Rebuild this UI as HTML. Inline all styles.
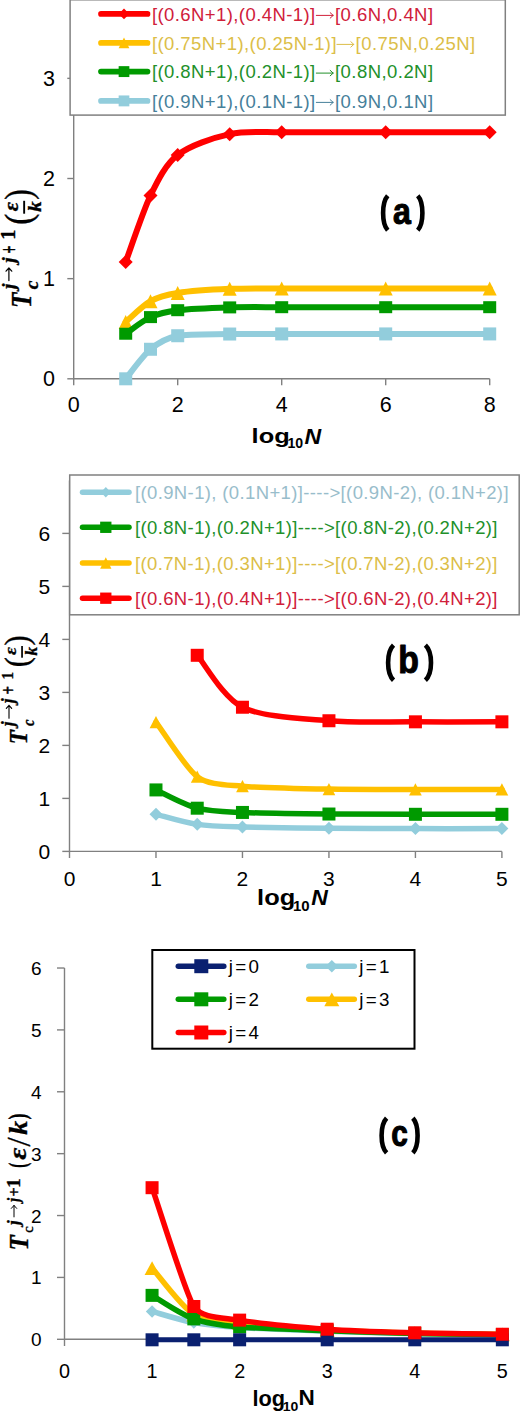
<!DOCTYPE html>
<html><head><meta charset="utf-8"><style>
html,body{margin:0;padding:0;background:#fff;}
body{width:520px;height:1412px;overflow:hidden;font-family:"Liberation Sans",sans-serif;}
svg{display:block;}
</style></head><body>
<svg width="520" height="1412" viewBox="0 0 520 1412">
<rect width="520" height="1412" fill="#fff"/>
<g stroke="#808080" stroke-width="1.4" fill="none">
<path d="M73.7,28.274999999999977 V378.8 H489.7"/>
<path d="M67.3,378.80 H73.7"/>
<path d="M67.3,278.65 H73.7"/>
<path d="M67.3,178.50 H73.7"/>
<path d="M67.3,78.35 H73.7"/>
<path d="M73.70,378.8 V385.3"/>
<path d="M177.70,378.8 V385.3"/>
<path d="M281.70,378.8 V385.3"/>
<path d="M385.70,378.8 V385.3"/>
<path d="M489.70,378.8 V385.3"/>
</g>
<text x="55" y="386.40" font-family="Liberation Sans, sans-serif" font-size="21.5" text-anchor="end" fill="#000">0</text>
<text x="55" y="286.25" font-family="Liberation Sans, sans-serif" font-size="21.5" text-anchor="end" fill="#000">1</text>
<text x="55" y="186.10" font-family="Liberation Sans, sans-serif" font-size="21.5" text-anchor="end" fill="#000">2</text>
<text x="55" y="85.95" font-family="Liberation Sans, sans-serif" font-size="21.5" text-anchor="end" fill="#000">3</text>
<text x="73.70" y="411.6" font-family="Liberation Sans, sans-serif" font-size="21.5" text-anchor="middle" fill="#000">0</text>
<text x="177.70" y="411.6" font-family="Liberation Sans, sans-serif" font-size="21.5" text-anchor="middle" fill="#000">2</text>
<text x="281.70" y="411.6" font-family="Liberation Sans, sans-serif" font-size="21.5" text-anchor="middle" fill="#000">4</text>
<text x="385.70" y="411.6" font-family="Liberation Sans, sans-serif" font-size="21.5" text-anchor="middle" fill="#000">6</text>
<text x="489.70" y="411.6" font-family="Liberation Sans, sans-serif" font-size="21.5" text-anchor="middle" fill="#000">8</text>
<path d="M125.70,261.92 C129.83,250.86 143.43,210.07 150.50,195.53 C157.57,180.98 165.40,164.50 177.70,154.96 C190.00,145.43 213.01,137.78 229.70,134.13 C246.39,130.48 264.36,132.44 281.70,132.23 C299.04,132.02 351.03,132.23 385.70,132.23 C420.37,132.23 472.37,132.23 489.70,132.23" fill="none" stroke="#FF0000" stroke-width="6" stroke-linejoin="round" stroke-linecap="round"/>
<path d="M125.70,254.92 L132.70,261.92 L125.70,268.92 L118.70,261.92Z" fill="#FF0000"/>
<path d="M150.50,188.53 L157.50,195.53 L150.50,202.53 L143.50,195.53Z" fill="#FF0000"/>
<path d="M177.70,147.96 L184.70,154.96 L177.70,161.96 L170.70,154.96Z" fill="#FF0000"/>
<path d="M229.70,127.13 L236.70,134.13 L229.70,141.13 L222.70,134.13Z" fill="#FF0000"/>
<path d="M281.70,125.23 L288.70,132.23 L281.70,139.23 L274.70,132.23Z" fill="#FF0000"/>
<path d="M385.70,125.23 L392.70,132.23 L385.70,139.23 L378.70,132.23Z" fill="#FF0000"/>
<path d="M489.70,125.23 L496.70,132.23 L489.70,139.23 L482.70,132.23Z" fill="#FF0000"/>
<path d="M125.70,322.01 C129.83,318.54 142.40,305.71 150.50,301.18 C158.60,296.66 168.39,294.42 177.70,292.97 C187.01,291.52 212.39,289.62 229.70,288.87 C247.01,288.12 264.37,288.51 281.70,288.46 C299.03,288.42 351.03,288.46 385.70,288.46 C420.37,288.46 472.37,288.46 489.70,288.46" fill="none" stroke="#FFC000" stroke-width="6" stroke-linejoin="round" stroke-linecap="round"/>
<path d="M125.70,315.01 L132.70,329.01 L118.70,329.01Z" fill="#FFC000"/>
<path d="M150.50,294.18 L157.50,308.18 L143.50,308.18Z" fill="#FFC000"/>
<path d="M177.70,285.97 L184.70,299.97 L170.70,299.97Z" fill="#FFC000"/>
<path d="M229.70,281.87 L236.70,295.87 L222.70,295.87Z" fill="#FFC000"/>
<path d="M281.70,281.46 L288.70,295.46 L274.70,295.46Z" fill="#FFC000"/>
<path d="M385.70,281.46 L392.70,295.46 L378.70,295.46Z" fill="#FFC000"/>
<path d="M489.70,281.46 L496.70,295.46 L482.70,295.46Z" fill="#FFC000"/>
<path d="M125.70,333.73 C129.83,330.96 142.11,320.91 150.50,317.11 C158.90,313.31 168.46,311.33 177.70,310.20 C186.94,309.06 212.38,307.89 229.70,307.39 C247.02,306.89 264.37,307.22 281.70,307.19 C299.03,307.17 351.03,307.19 385.70,307.19 C420.37,307.19 472.37,307.19 489.70,307.19" fill="none" stroke="#009A00" stroke-width="6" stroke-linejoin="round" stroke-linecap="round"/>
<rect x="119.20" y="327.73" width="13.00" height="12.00" fill="#009A00"/>
<rect x="144.00" y="311.11" width="13.00" height="12.00" fill="#009A00"/>
<rect x="171.20" y="304.20" width="13.00" height="12.00" fill="#009A00"/>
<rect x="223.20" y="301.39" width="13.00" height="12.00" fill="#009A00"/>
<rect x="275.20" y="301.19" width="13.00" height="12.00" fill="#009A00"/>
<rect x="379.20" y="301.19" width="13.00" height="12.00" fill="#009A00"/>
<rect x="483.20" y="301.19" width="13.00" height="12.00" fill="#009A00"/>
<path d="M125.70,378.80 C129.83,373.88 142.87,355.58 150.50,349.26 C158.14,342.93 167.97,337.61 177.70,335.74 C187.43,333.87 212.37,334.33 229.70,334.03 C247.03,333.73 264.37,333.94 281.70,333.93 C299.03,333.92 351.03,333.93 385.70,333.93 C420.37,333.93 472.37,333.93 489.70,333.93" fill="none" stroke="#92CDDC" stroke-width="6" stroke-linejoin="round" stroke-linecap="round"/>
<rect x="119.20" y="372.30" width="13.00" height="13.00" fill="#92CDDC"/>
<rect x="144.00" y="342.76" width="13.00" height="13.00" fill="#92CDDC"/>
<rect x="171.20" y="329.24" width="13.00" height="13.00" fill="#92CDDC"/>
<rect x="223.20" y="327.53" width="13.00" height="13.00" fill="#92CDDC"/>
<rect x="275.20" y="327.43" width="13.00" height="13.00" fill="#92CDDC"/>
<rect x="379.20" y="327.43" width="13.00" height="13.00" fill="#92CDDC"/>
<rect x="483.20" y="327.43" width="13.00" height="13.00" fill="#92CDDC"/>
<rect x="70.1" y="-0.2" width="435.2" height="115.3" fill="#fff" stroke="#808080" stroke-width="1.5"/>
<path d="M101,13.9 H147.5" stroke="#FF0000" stroke-width="5.7" stroke-linecap="round"/>
<path d="M124.00,8.45 L129.25,13.90 L124.00,19.35 L118.75,13.90Z" fill="#FF0000"/>
<text x="152" y="20.50" font-family="Liberation Sans, sans-serif" font-size="18.5" letter-spacing="0.41" fill="#D0203A">[(0.6N+1),(0.4N-1)]</text>
<path d="M316.30,15.40 H333.20 M330.20,12.70 L333.20,15.40 L330.20,18.10" fill="none" stroke="#D0203A" stroke-width="1.0" stroke-linecap="round" stroke-linejoin="round"/>
<text x="335.0" y="20.50" font-family="Liberation Sans, sans-serif" font-size="18.5" letter-spacing="0.45" fill="#D0203A">[0.6N,0.4N]</text>
<path d="M101,42.9 H147.5" stroke="#FFC000" stroke-width="5.7" stroke-linecap="round"/>
<path d="M124.00,37.45 L129.35,48.35 L118.65,48.35Z" fill="#FFC000"/>
<text x="152" y="49.50" font-family="Liberation Sans, sans-serif" font-size="18.5" letter-spacing="0.41" fill="#DCBE48">[(0.75N+1),(0.25N-1)]</text>
<path d="M336.90,44.40 H353.80 M350.80,41.70 L353.80,44.40 L350.80,47.10" fill="none" stroke="#DCBE48" stroke-width="1.0" stroke-linecap="round" stroke-linejoin="round"/>
<text x="355.6" y="49.50" font-family="Liberation Sans, sans-serif" font-size="18.5" letter-spacing="0.45" fill="#DCBE48">[0.75N,0.25N]</text>
<path d="M101,71.6 H147.5" stroke="#009A00" stroke-width="5.7" stroke-linecap="round"/>
<rect x="118.65" y="66.15" width="10.70" height="10.90" fill="#009A00"/>
<text x="152" y="78.20" font-family="Liberation Sans, sans-serif" font-size="18.5" letter-spacing="0.41" fill="#22902A">[(0.8N+1),(0.2N-1)]</text>
<path d="M316.30,73.10 H333.20 M330.20,70.40 L333.20,73.10 L330.20,75.80" fill="none" stroke="#22902A" stroke-width="1.0" stroke-linecap="round" stroke-linejoin="round"/>
<text x="335.0" y="78.20" font-family="Liberation Sans, sans-serif" font-size="18.5" letter-spacing="0.45" fill="#22902A">[0.8N,0.2N]</text>
<path d="M101,100.9 H147.5" stroke="#92CDDC" stroke-width="5.7" stroke-linecap="round"/>
<rect x="118.65" y="95.45" width="10.70" height="10.90" fill="#92CDDC"/>
<text x="152" y="107.50" font-family="Liberation Sans, sans-serif" font-size="18.5" letter-spacing="0.41" fill="#46809A">[(0.9N+1),(0.1N-1)]</text>
<path d="M316.30,102.40 H333.20 M330.20,99.70 L333.20,102.40 L330.20,105.10" fill="none" stroke="#46809A" stroke-width="1.0" stroke-linecap="round" stroke-linejoin="round"/>
<text x="335.0" y="107.50" font-family="Liberation Sans, sans-serif" font-size="18.5" letter-spacing="0.45" fill="#46809A">[0.9N,0.1N]</text>
<g stroke="#808080" stroke-width="1.4" fill="none">
<path d="M69.5,480.4 V851.4 H501.90000000000003"/>
<path d="M62.3,851.40 H69.5"/>
<path d="M62.3,798.40 H69.5"/>
<path d="M62.3,745.40 H69.5"/>
<path d="M62.3,692.40 H69.5"/>
<path d="M62.3,639.40 H69.5"/>
<path d="M62.3,586.40 H69.5"/>
<path d="M62.3,533.40 H69.5"/>
<path d="M69.50,851.4 V858"/>
<path d="M155.98,851.4 V858"/>
<path d="M242.46,851.4 V858"/>
<path d="M328.94,851.4 V858"/>
<path d="M415.42,851.4 V858"/>
<path d="M501.90,851.4 V858"/>
</g>
<text x="50.3" y="858.80" font-family="Liberation Sans, sans-serif" font-size="21" text-anchor="end" fill="#000">0</text>
<text x="50.3" y="805.80" font-family="Liberation Sans, sans-serif" font-size="21" text-anchor="end" fill="#000">1</text>
<text x="50.3" y="752.80" font-family="Liberation Sans, sans-serif" font-size="21" text-anchor="end" fill="#000">2</text>
<text x="50.3" y="699.80" font-family="Liberation Sans, sans-serif" font-size="21" text-anchor="end" fill="#000">3</text>
<text x="50.3" y="646.80" font-family="Liberation Sans, sans-serif" font-size="21" text-anchor="end" fill="#000">4</text>
<text x="50.3" y="593.80" font-family="Liberation Sans, sans-serif" font-size="21" text-anchor="end" fill="#000">5</text>
<text x="50.3" y="540.80" font-family="Liberation Sans, sans-serif" font-size="21" text-anchor="end" fill="#000">6</text>
<text x="69.50" y="885.6" font-family="Liberation Sans, sans-serif" font-size="21" text-anchor="middle" fill="#000">0</text>
<text x="155.98" y="885.6" font-family="Liberation Sans, sans-serif" font-size="21" text-anchor="middle" fill="#000">1</text>
<text x="242.46" y="885.6" font-family="Liberation Sans, sans-serif" font-size="21" text-anchor="middle" fill="#000">2</text>
<text x="328.94" y="885.6" font-family="Liberation Sans, sans-serif" font-size="21" text-anchor="middle" fill="#000">3</text>
<text x="415.42" y="885.6" font-family="Liberation Sans, sans-serif" font-size="21" text-anchor="middle" fill="#000">4</text>
<text x="501.90" y="885.6" font-family="Liberation Sans, sans-serif" font-size="21" text-anchor="middle" fill="#000">5</text>
<path d="M197.23,655.30 C204.77,663.96 223.13,697.63 242.46,707.24 C261.79,716.85 300.29,718.34 328.94,720.75 C357.59,723.17 386.59,721.64 415.42,721.82 C444.25,721.99 487.49,721.82 501.90,721.82" fill="none" stroke="#FF0000" stroke-width="5.5" stroke-linejoin="round" stroke-linecap="round"/>
<rect x="190.73" y="648.80" width="13.00" height="13.00" fill="#FF0000"/>
<rect x="235.96" y="700.74" width="13.00" height="13.00" fill="#FF0000"/>
<rect x="322.44" y="714.25" width="13.00" height="13.00" fill="#FF0000"/>
<rect x="408.92" y="715.32" width="13.00" height="13.00" fill="#FF0000"/>
<rect x="495.40" y="715.32" width="13.00" height="13.00" fill="#FF0000"/>
<path d="M155.98,722.08 C162.86,731.18 185.61,768.05 197.23,776.67 C208.85,785.29 227.17,784.76 242.46,786.21 C257.75,787.66 300.12,788.60 328.94,789.12 C357.76,789.65 386.59,789.35 415.42,789.39 C444.25,789.43 487.49,789.39 501.90,789.39" fill="none" stroke="#FFC000" stroke-width="5.5" stroke-linejoin="round" stroke-linecap="round"/>
<path d="M155.98,715.98 L162.33,728.18 L149.63,728.18Z" fill="#FFC000"/>
<path d="M197.23,770.57 L203.58,782.77 L190.88,782.77Z" fill="#FFC000"/>
<path d="M242.46,780.11 L248.81,792.31 L236.11,792.31Z" fill="#FFC000"/>
<path d="M328.94,783.02 L335.29,795.23 L322.59,795.23Z" fill="#FFC000"/>
<path d="M415.42,783.29 L421.77,795.49 L409.07,795.49Z" fill="#FFC000"/>
<path d="M501.90,783.29 L508.25,795.49 L495.55,795.49Z" fill="#FFC000"/>
<path d="M155.98,789.92 C162.86,792.97 182.87,804.46 197.23,808.20 C211.60,811.95 227.34,811.78 242.46,812.44 C257.58,813.11 300.12,813.73 328.94,814.03 C357.76,814.34 386.59,814.26 415.42,814.30 C444.25,814.34 487.49,814.30 501.90,814.30" fill="none" stroke="#009A00" stroke-width="5.5" stroke-linejoin="round" stroke-linecap="round"/>
<rect x="149.48" y="783.42" width="13.00" height="13.00" fill="#009A00"/>
<rect x="190.73" y="801.70" width="13.00" height="13.00" fill="#009A00"/>
<rect x="235.96" y="805.94" width="13.00" height="13.00" fill="#009A00"/>
<rect x="322.44" y="807.53" width="13.00" height="13.00" fill="#009A00"/>
<rect x="408.92" y="807.80" width="13.00" height="13.00" fill="#009A00"/>
<rect x="495.40" y="807.80" width="13.00" height="13.00" fill="#009A00"/>
<path d="M155.98,814.30 C162.86,815.98 183.28,822.32 197.23,824.37 C211.18,826.42 227.37,826.56 242.46,827.02 C257.55,827.48 300.11,828.08 328.94,828.35 C357.77,828.61 386.59,828.57 415.42,828.61 C444.25,828.65 487.49,828.61 501.90,828.61" fill="none" stroke="#92CDDC" stroke-width="5.5" stroke-linejoin="round" stroke-linecap="round"/>
<path d="M155.98,807.80 L162.48,814.30 L155.98,820.80 L149.48,814.30Z" fill="#92CDDC"/>
<path d="M197.23,817.87 L203.73,824.37 L197.23,830.87 L190.73,824.37Z" fill="#92CDDC"/>
<path d="M242.46,820.52 L248.96,827.02 L242.46,833.52 L235.96,827.02Z" fill="#92CDDC"/>
<path d="M328.94,821.85 L335.44,828.35 L328.94,834.85 L322.44,828.35Z" fill="#92CDDC"/>
<path d="M415.42,822.11 L421.92,828.61 L415.42,835.11 L408.92,828.61Z" fill="#92CDDC"/>
<path d="M501.90,822.11 L508.40,828.61 L501.90,835.11 L495.40,828.61Z" fill="#92CDDC"/>
<rect x="69.7" y="475" width="449.5" height="139.8" fill="#fff" stroke="#808080" stroke-width="1.5"/>
<path d="M82.5,492.2 H129" stroke="#92CDDC" stroke-width="5.5" stroke-linecap="round"/>
<path d="M105.80,486.90 L110.70,492.20 L105.80,497.50 L100.90,492.20Z" fill="#92CDDC"/>
<text x="135" y="498.80" font-family="Liberation Sans, sans-serif" font-size="18.5" letter-spacing="0.37" fill="#98BDCB">[(0.9N-1), (0.1N+1)]----&gt;[(0.9N-2), (0.1N+2)]</text>
<path d="M82.5,527.3 H129" stroke="#009A00" stroke-width="5.5" stroke-linecap="round"/>
<rect x="100.15" y="521.65" width="11.30" height="11.30" fill="#009A00"/>
<text x="135" y="533.90" font-family="Liberation Sans, sans-serif" font-size="18.5" letter-spacing="0.37" fill="#22902A">[(0.8N-1),(0.2N+1)]----&gt;[(0.8N-2),(0.2N+2)]</text>
<path d="M82.5,563 H129" stroke="#FFC000" stroke-width="5.5" stroke-linecap="round"/>
<path d="M105.80,557.35 L111.45,568.65 L100.15,568.65Z" fill="#FFC000"/>
<text x="135" y="569.60" font-family="Liberation Sans, sans-serif" font-size="18.5" letter-spacing="0.37" fill="#DCBE48">[(0.7N-1),(0.3N+1)]----&gt;[(0.7N-2),(0.3N+2)]</text>
<path d="M82.5,598.2 H129" stroke="#FF0000" stroke-width="5.5" stroke-linecap="round"/>
<rect x="100.15" y="592.55" width="11.30" height="11.30" fill="#FF0000"/>
<text x="135" y="604.80" font-family="Liberation Sans, sans-serif" font-size="18.5" letter-spacing="0.37" fill="#D0203A">[(0.6N-1),(0.4N+1)]----&gt;[(0.6N-2),(0.4N+2)]</text>
<g stroke="#808080" stroke-width="1.4" fill="none">
<path d="M64.5,968.02 V1339.3 H502.34999999999997"/>
<path d="M57,1339.30 H64.5"/>
<path d="M57,1277.42 H64.5"/>
<path d="M57,1215.54 H64.5"/>
<path d="M57,1153.66 H64.5"/>
<path d="M57,1091.78 H64.5"/>
<path d="M57,1029.90 H64.5"/>
<path d="M57,968.02 H64.5"/>
<path d="M64.50,1339.3 V1346"/>
<path d="M152.07,1339.3 V1346"/>
<path d="M239.64,1339.3 V1346"/>
<path d="M327.21,1339.3 V1346"/>
<path d="M414.78,1339.3 V1346"/>
<path d="M502.35,1339.3 V1346"/>
</g>
<text x="41.5" y="1346.30" font-family="Liberation Sans, sans-serif" font-size="19" text-anchor="end" fill="#000">0</text>
<text x="41.5" y="1284.42" font-family="Liberation Sans, sans-serif" font-size="19" text-anchor="end" fill="#000">1</text>
<text x="41.5" y="1222.54" font-family="Liberation Sans, sans-serif" font-size="19" text-anchor="end" fill="#000">2</text>
<text x="41.5" y="1160.66" font-family="Liberation Sans, sans-serif" font-size="19" text-anchor="end" fill="#000">3</text>
<text x="41.5" y="1098.78" font-family="Liberation Sans, sans-serif" font-size="19" text-anchor="end" fill="#000">4</text>
<text x="41.5" y="1036.90" font-family="Liberation Sans, sans-serif" font-size="19" text-anchor="end" fill="#000">5</text>
<text x="41.5" y="975.02" font-family="Liberation Sans, sans-serif" font-size="19" text-anchor="end" fill="#000">6</text>
<text x="64.50" y="1378.2" font-family="Liberation Sans, sans-serif" font-size="19.8" text-anchor="middle" fill="#000">0</text>
<text x="152.07" y="1378.2" font-family="Liberation Sans, sans-serif" font-size="19.8" text-anchor="middle" fill="#000">1</text>
<text x="239.64" y="1378.2" font-family="Liberation Sans, sans-serif" font-size="19.8" text-anchor="middle" fill="#000">2</text>
<text x="327.21" y="1378.2" font-family="Liberation Sans, sans-serif" font-size="19.8" text-anchor="middle" fill="#000">3</text>
<text x="414.78" y="1378.2" font-family="Liberation Sans, sans-serif" font-size="19.8" text-anchor="middle" fill="#000">4</text>
<text x="502.35" y="1378.2" font-family="Liberation Sans, sans-serif" font-size="19.8" text-anchor="middle" fill="#000">5</text>
<path d="M152.07,1311.45 C159.03,1313.31 179.71,1320.00 193.84,1322.59 C207.97,1325.19 224.32,1326.55 239.64,1327.54 C254.96,1328.54 298.03,1330.22 327.21,1331.26 C356.39,1332.29 385.59,1333.11 414.78,1333.73 C443.97,1334.35 487.75,1334.76 502.35,1334.97" fill="none" stroke="#92CDDC" stroke-width="5.5" stroke-linejoin="round" stroke-linecap="round"/>
<path d="M152.07,1305.20 L158.32,1311.45 L152.07,1317.70 L145.82,1311.45Z" fill="#92CDDC"/>
<path d="M193.84,1316.34 L200.09,1322.59 L193.84,1328.84 L187.59,1322.59Z" fill="#92CDDC"/>
<path d="M239.64,1321.29 L245.89,1327.54 L239.64,1333.79 L233.39,1327.54Z" fill="#92CDDC"/>
<path d="M327.21,1325.01 L333.46,1331.26 L327.21,1337.51 L320.96,1331.26Z" fill="#92CDDC"/>
<path d="M414.78,1327.48 L421.03,1333.73 L414.78,1339.98 L408.53,1333.73Z" fill="#92CDDC"/>
<path d="M502.35,1328.72 L508.60,1334.97 L502.35,1341.22 L496.10,1334.97Z" fill="#92CDDC"/>
<path d="M152.07,1268.14 C159.03,1275.87 181.36,1306.70 193.84,1314.55 C206.32,1322.39 224.23,1321.42 239.64,1323.21 C255.05,1325.00 298.05,1328.37 327.21,1330.02 C356.37,1331.67 385.60,1332.39 414.78,1333.11 C443.96,1333.83 487.75,1334.14 502.35,1334.35" fill="none" stroke="#FFC000" stroke-width="5.5" stroke-linejoin="round" stroke-linecap="round"/>
<path d="M152.07,1261.29 L159.57,1274.99 L144.57,1274.99Z" fill="#FFC000"/>
<path d="M193.84,1307.70 L201.34,1321.40 L186.34,1321.40Z" fill="#FFC000"/>
<path d="M239.64,1316.36 L247.14,1330.06 L232.14,1330.06Z" fill="#FFC000"/>
<path d="M327.21,1323.17 L334.71,1336.87 L319.71,1336.87Z" fill="#FFC000"/>
<path d="M414.78,1326.26 L422.28,1339.96 L407.28,1339.96Z" fill="#FFC000"/>
<path d="M502.35,1327.50 L509.85,1341.20 L494.85,1341.20Z" fill="#FFC000"/>
<path d="M152.07,1295.37 C159.03,1299.28 179.47,1313.70 193.84,1318.88 C208.21,1324.06 224.23,1325.57 239.64,1326.92 C255.05,1328.28 298.03,1329.55 327.21,1330.64 C356.39,1331.72 385.60,1332.75 414.78,1333.42 C443.96,1334.09 487.75,1334.45 502.35,1334.66" fill="none" stroke="#009A00" stroke-width="5.5" stroke-linejoin="round" stroke-linecap="round"/>
<rect x="145.57" y="1288.87" width="13.00" height="13.00" fill="#009A00"/>
<rect x="187.34" y="1312.38" width="13.00" height="13.00" fill="#009A00"/>
<rect x="233.14" y="1320.42" width="13.00" height="13.00" fill="#009A00"/>
<rect x="320.71" y="1324.14" width="13.00" height="13.00" fill="#009A00"/>
<rect x="408.28" y="1326.92" width="13.00" height="13.00" fill="#009A00"/>
<rect x="495.85" y="1328.16" width="13.00" height="13.00" fill="#009A00"/>
<path d="M152.07,1339.80 C159.03,1339.80 179.92,1339.80 193.84,1339.80 C207.76,1339.80 224.37,1339.80 239.64,1339.80 C254.91,1339.80 298.02,1339.80 327.21,1339.80 C356.40,1339.80 385.59,1339.80 414.78,1339.80 C443.97,1339.80 487.75,1339.80 502.35,1339.80" fill="none" stroke="#0A2070" stroke-width="5.0" stroke-linejoin="round" stroke-linecap="round"/>
<rect x="145.57" y="1333.30" width="13.00" height="13.00" fill="#0A2070"/>
<rect x="187.34" y="1333.30" width="13.00" height="13.00" fill="#0A2070"/>
<rect x="233.14" y="1333.30" width="13.00" height="13.00" fill="#0A2070"/>
<rect x="320.71" y="1333.30" width="13.00" height="13.00" fill="#0A2070"/>
<rect x="408.28" y="1333.30" width="13.00" height="13.00" fill="#0A2070"/>
<rect x="495.85" y="1333.30" width="13.00" height="13.00" fill="#0A2070"/>
<path d="M152.07,1187.69 C159.03,1207.50 185.81,1294.36 193.84,1306.50 C201.87,1318.64 224.00,1317.45 239.64,1320.12 C255.28,1322.78 298.09,1327.10 327.21,1329.21 C356.33,1331.32 385.60,1331.97 414.78,1332.80 C443.96,1333.64 487.75,1333.99 502.35,1334.23" fill="none" stroke="#FF0000" stroke-width="5.5" stroke-linejoin="round" stroke-linecap="round"/>
<rect x="145.57" y="1181.19" width="13.00" height="13.00" fill="#FF0000"/>
<rect x="187.34" y="1300.00" width="13.00" height="13.00" fill="#FF0000"/>
<rect x="233.14" y="1313.62" width="13.00" height="13.00" fill="#FF0000"/>
<rect x="320.71" y="1322.71" width="13.00" height="13.00" fill="#FF0000"/>
<rect x="408.28" y="1326.30" width="13.00" height="13.00" fill="#FF0000"/>
<rect x="495.85" y="1327.73" width="13.00" height="13.00" fill="#FF0000"/>
<rect x="152.3" y="950" width="262.2" height="98.7" fill="#fff" stroke="#000" stroke-width="2"/>
<path d="M178.3,966.2 H223.8" stroke="#0A2070" stroke-width="5.5" stroke-linecap="round"/>
<rect x="194.30" y="959.20" width="14.00" height="14.00" fill="#0A2070"/>
<text x="228.8" y="973.00" font-family="Liberation Sans, sans-serif" font-size="18.8" letter-spacing="2.3" fill="#000">j=0</text>
<path d="M308.8,966.2 H354.3" stroke="#92CDDC" stroke-width="5.5" stroke-linecap="round"/>
<path d="M331.80,959.95 L338.05,966.20 L331.80,972.45 L325.55,966.20Z" fill="#92CDDC"/>
<text x="359.3" y="973.00" font-family="Liberation Sans, sans-serif" font-size="18.8" letter-spacing="2.3" fill="#000">j=1</text>
<path d="M178.3,999.3 H223.8" stroke="#009A00" stroke-width="5.5" stroke-linecap="round"/>
<rect x="194.30" y="992.30" width="14.00" height="14.00" fill="#009A00"/>
<text x="228.8" y="1006.10" font-family="Liberation Sans, sans-serif" font-size="18.8" letter-spacing="2.3" fill="#000">j=2</text>
<path d="M308.8,999.3 H354.3" stroke="#FFC000" stroke-width="5.5" stroke-linecap="round"/>
<path d="M331.80,992.45 L339.30,1006.15 L324.30,1006.15Z" fill="#FFC000"/>
<text x="359.3" y="1006.10" font-family="Liberation Sans, sans-serif" font-size="18.8" letter-spacing="2.3" fill="#000">j=3</text>
<path d="M178.3,1032.5 H223.8" stroke="#FF0000" stroke-width="5.5" stroke-linecap="round"/>
<rect x="194.30" y="1025.50" width="14.00" height="14.00" fill="#FF0000"/>
<text x="228.8" y="1039.30" font-family="Liberation Sans, sans-serif" font-size="18.8" letter-spacing="2.3" fill="#000">j=4</text>
<text transform="translate(30.52,308.09) rotate(-90) scale(0.2518,0.2869)" font-family="Liberation Serif, serif" font-weight="bold" font-style="italic" font-size="100" fill="#000"  stroke="#000" stroke-width="1.30" stroke-linejoin="round">T</text>
<text transform="translate(37.63,289.22) rotate(-90) scale(0.1964,0.1906)" font-family="Liberation Serif, serif" font-weight="bold" font-style="italic" font-size="100" fill="#000"  stroke="#000" stroke-width="1.81" stroke-linejoin="round">c</text>
<text transform="translate(15.16,289.07) rotate(-90) scale(0.1963,0.1983)" font-family="Liberation Serif, serif" font-weight="bold" font-style="italic" font-size="100" fill="#000"  stroke="#000" stroke-width="1.77" stroke-linejoin="round">j</text>
<text transform="translate(15.16,262.87) rotate(-90) scale(0.1963,0.1983)" font-family="Liberation Serif, serif" font-weight="bold" font-style="italic" font-size="100" fill="#000"  stroke="#000" stroke-width="1.77" stroke-linejoin="round">j</text>
<text transform="translate(17.92,253.42) rotate(-90) scale(0.1394,0.2500)" font-family="Liberation Serif, serif" font-weight="bold" font-style="normal" font-size="100" fill="#000"  stroke="#000" stroke-width="1.80" stroke-linejoin="round">+</text>
<text transform="translate(15.42,239.64) rotate(-90) scale(0.2014,0.2053)" font-family="Liberation Serif, serif" font-weight="bold" font-style="normal" font-size="100" fill="#000"  stroke="#000" stroke-width="1.72" stroke-linejoin="round">1</text>
<text transform="translate(31.23,224.87) rotate(-90) scale(0.3365,0.3806)" font-family="Liberation Serif, serif" font-weight="normal" font-style="normal" font-size="100" fill="#000"  stroke="#000" stroke-width="0.98" stroke-linejoin="round">(</text>
<text transform="translate(31.23,199.78) rotate(-90) scale(0.3173,0.3806)" font-family="Liberation Serif, serif" font-weight="normal" font-style="normal" font-size="100" fill="#000"  stroke="#000" stroke-width="1.00" stroke-linejoin="round">)</text>
<text transform="translate(17.82,211.15) rotate(-90) scale(0.2244,0.2094)" font-family="Liberation Serif, serif" font-weight="bold" font-style="italic" font-size="100" fill="#000"  stroke="#000" stroke-width="1.61" stroke-linejoin="round">ε</text>
<text transform="translate(40.53,211.63) rotate(-90) scale(0.2094,0.1964)" font-family="Liberation Serif, serif" font-weight="bold" font-style="italic" font-size="100" fill="#000"  stroke="#000" stroke-width="1.73" stroke-linejoin="round">k</text>
<text transform="translate(27.02,744.33) rotate(-90) scale(0.2289,0.2531)" font-family="Liberation Serif, serif" font-weight="bold" font-style="italic" font-size="100" fill="#000"  stroke="#000" stroke-width="1.45" stroke-linejoin="round">T</text>
<text transform="translate(34.25,725.97) rotate(-90) scale(0.1464,0.1719)" font-family="Liberation Serif, serif" font-weight="bold" font-style="italic" font-size="100" fill="#000"  stroke="#000" stroke-width="2.20" stroke-linejoin="round">c</text>
<text transform="translate(13.56,726.13) rotate(-90) scale(0.1768,0.1794)" font-family="Liberation Serif, serif" font-weight="bold" font-style="italic" font-size="100" fill="#000"  stroke="#000" stroke-width="1.96" stroke-linejoin="round">j</text>
<text transform="translate(13.56,703.13) rotate(-90) scale(0.1768,0.1794)" font-family="Liberation Serif, serif" font-weight="bold" font-style="italic" font-size="100" fill="#000"  stroke="#000" stroke-width="1.96" stroke-linejoin="round">j</text>
<text transform="translate(15.36,694.56) rotate(-90) scale(0.1479,0.2138)" font-family="Liberation Serif, serif" font-weight="bold" font-style="normal" font-size="100" fill="#000"  stroke="#000" stroke-width="1.94" stroke-linejoin="round">+</text>
<text transform="translate(13.22,679.45) rotate(-90) scale(0.1527,0.1644)" font-family="Liberation Serif, serif" font-weight="bold" font-style="normal" font-size="100" fill="#000"  stroke="#000" stroke-width="2.21" stroke-linejoin="round">1</text>
<text transform="translate(28.43,667.35) rotate(-90) scale(0.3058,0.3472)" font-family="Liberation Serif, serif" font-weight="normal" font-style="normal" font-size="100" fill="#000"  stroke="#000" stroke-width="1.07" stroke-linejoin="round">(</text>
<text transform="translate(28.43,645.54) rotate(-90) scale(0.3058,0.3472)" font-family="Liberation Serif, serif" font-weight="normal" font-style="normal" font-size="100" fill="#000"  stroke="#000" stroke-width="1.07" stroke-linejoin="round">)</text>
<text transform="translate(15.66,655.12) rotate(-90) scale(0.1910,0.1635)" font-family="Liberation Serif, serif" font-weight="bold" font-style="italic" font-size="100" fill="#000"  stroke="#000" stroke-width="1.97" stroke-linejoin="round">ε</text>
<text transform="translate(37.43,655.50) rotate(-90) scale(0.1719,0.1775)" font-family="Liberation Serif, serif" font-weight="bold" font-style="italic" font-size="100" fill="#000"  stroke="#000" stroke-width="2.00" stroke-linejoin="round">k</text>
<text transform="translate(27.52,1250.38) rotate(-90) scale(0.2500,0.2792)" font-family="Liberation Serif, serif" font-weight="bold" font-style="italic" font-size="100" fill="#000"  stroke="#000" stroke-width="1.32" stroke-linejoin="round">T</text>
<text transform="translate(32.77,1232.71) rotate(-90) scale(0.1473,0.1531)" font-family="Liberation Serif, serif" font-weight="normal" font-style="normal" font-size="100" fill="#000"  stroke="#000" stroke-width="2.33" stroke-linejoin="round">c</text>
<text transform="translate(19.23,1224.92) rotate(-90) scale(0.1695,0.1761)" font-family="Liberation Serif, serif" font-weight="bold" font-style="italic" font-size="100" fill="#000"  stroke="#000" stroke-width="2.03" stroke-linejoin="round">j</text>
<text transform="translate(19.23,1202.08) rotate(-90) scale(0.1500,0.1761)" font-family="Liberation Serif, serif" font-weight="bold" font-style="italic" font-size="100" fill="#000"  stroke="#000" stroke-width="2.15" stroke-linejoin="round">j</text>
<text transform="translate(19.57,1196.42) rotate(-90) scale(0.1585,0.1649)" font-family="Liberation Serif, serif" font-weight="bold" font-style="normal" font-size="100" fill="#000"  stroke="#000" stroke-width="2.16" stroke-linejoin="round">+</text>
<text transform="translate(19.82,1187.83) rotate(-90) scale(0.1878,0.1871)" font-family="Liberation Serif, serif" font-weight="bold" font-style="normal" font-size="100" fill="#000"  stroke="#000" stroke-width="1.87" stroke-linejoin="round">1</text>
<text transform="translate(25.88,1167.72) rotate(-90) scale(0.1481,0.2450)" font-family="Liberation Serif, serif" font-weight="bold" font-style="normal" font-size="100" fill="#000"  stroke="#000" stroke-width="1.78" stroke-linejoin="round">(</text>
<text transform="translate(25.88,1119.56) rotate(-90) scale(0.1788,0.2450)" font-family="Liberation Serif, serif" font-weight="bold" font-style="normal" font-size="100" fill="#000"  stroke="#000" stroke-width="1.65" stroke-linejoin="round">)</text>
<text transform="translate(26.48,1159.72) rotate(-90) scale(0.2962,0.2490)" font-family="Liberation Serif, serif" font-weight="bold" font-style="italic" font-size="100" fill="#000"  stroke="#000" stroke-width="1.28" stroke-linejoin="round">ε</text>
<text transform="translate(29.57,1145.37) rotate(-90) scale(0.2256,0.3276)" font-family="Liberation Serif, serif" font-weight="bold" font-style="italic" font-size="100" fill="#000"  stroke="#000" stroke-width="1.27" stroke-linejoin="round">/</text>
<text transform="translate(27.12,1134.71) rotate(-90) scale(0.2802,0.2572)" font-family="Liberation Serif, serif" font-weight="bold" font-style="italic" font-size="100" fill="#000"  stroke="#000" stroke-width="1.30" stroke-linejoin="round">k</text>
<path d="M387.73,195.68 C381.56,202.51 381.56,223.39 387.73,230.22" fill="none" stroke="#000" stroke-width="4.6" stroke-linecap="butt"/>
<text transform="translate(393.04,223.63) scale(0.3208,0.3673)" font-family="Liberation Sans, sans-serif" font-weight="bold" font-style="normal" font-size="100" fill="#000"  stroke="#000" stroke-width="2.91" stroke-linejoin="round">a</text>
<path d="M417.77,195.68 C423.94,202.51 423.94,223.39 417.77,230.22" fill="none" stroke="#000" stroke-width="4.6" stroke-linecap="butt"/>
<path d="M393.53,645.18 C386.29,652.12 386.29,673.28 393.53,680.22" fill="none" stroke="#000" stroke-width="4.6" stroke-linecap="butt"/>
<text transform="translate(398.33,673.42) scale(0.3380,0.3838)" font-family="Liberation Sans, sans-serif" font-weight="bold" font-style="normal" font-size="100" fill="#000"  stroke="#000" stroke-width="2.77" stroke-linejoin="round">b</text>
<path d="M425.37,645.18 C432.88,652.12 432.88,673.28 425.37,680.22" fill="none" stroke="#000" stroke-width="4.6" stroke-linecap="butt"/>
<path d="M386.63,1118.08 C379.92,1124.97 379.92,1146.03 386.63,1152.92" fill="none" stroke="#000" stroke-width="4.6" stroke-linecap="butt"/>
<text transform="translate(391.21,1146.24) scale(0.2980,0.3636)" font-family="Liberation Sans, sans-serif" font-weight="bold" font-style="normal" font-size="100" fill="#000"  stroke="#000" stroke-width="3.02" stroke-linejoin="round">c</text>
<path d="M412.87,1118.08 C419.18,1124.97 419.18,1146.03 412.87,1152.92" fill="none" stroke="#000" stroke-width="4.6" stroke-linecap="butt"/>
<text transform="translate(251.62,443.02) scale(0.2544,0.2085)" font-family="Liberation Sans, sans-serif" font-weight="bold" font-style="normal" font-size="100" fill="#000" >log</text>
<text transform="translate(287.45,447.65) scale(0.1416,0.1465)" font-family="Liberation Sans, sans-serif" font-weight="bold" font-style="normal" font-size="100" fill="#000" >10</text>
<text transform="translate(304.44,443.50) scale(0.2306,0.2275)" font-family="Liberation Sans, sans-serif" font-weight="bold" font-style="italic" font-size="100" fill="#000" >N</text>
<text transform="translate(257.12,905.28) scale(0.2544,0.2202)" font-family="Liberation Sans, sans-serif" font-weight="bold" font-style="normal" font-size="100" fill="#000" >log</text>
<text transform="translate(292.90,910.55) scale(0.1495,0.1521)" font-family="Liberation Sans, sans-serif" font-weight="bold" font-style="normal" font-size="100" fill="#000" >10</text>
<text transform="translate(311.24,905.30) scale(0.2292,0.2290)" font-family="Liberation Sans, sans-serif" font-weight="bold" font-style="italic" font-size="100" fill="#000" >N</text>
<text transform="translate(252.48,1405.55) scale(0.2176,0.2213)" font-family="Liberation Sans, sans-serif" font-weight="bold" font-style="normal" font-size="100" fill="#000" >log</text>
<text transform="translate(282.76,1410.78) scale(0.1406,0.1225)" font-family="Liberation Sans, sans-serif" font-weight="bold" font-style="normal" font-size="100" fill="#000" >10</text>
<text transform="translate(298.42,1404.90) scale(0.2254,0.2159)" font-family="Liberation Sans, sans-serif" font-weight="bold" font-style="normal" font-size="100" fill="#000" >N</text>
<rect x="23.2" y="200.8" width="1.9" height="12.9" fill="#000"/>
<rect x="21.2" y="646" width="1.7" height="11.7" fill="#000"/>
<path d="M8.90,280.60 V268.00 M6.02,271.20 L8.90,268.00 L11.78,271.20" fill="none" stroke="#000" stroke-width="1.2" stroke-linecap="round" stroke-linejoin="round"/>
<path d="M9.00,718.20 V705.30 M6.30,708.30 L9.00,705.30 L11.70,708.30" fill="none" stroke="#000" stroke-width="1.1" stroke-linecap="round" stroke-linejoin="round"/>
<path d="M14.00,1216.90 V1205.40 M11.30,1208.40 L14.00,1205.40 L16.70,1208.40" fill="none" stroke="#000" stroke-width="1.0" stroke-linecap="round" stroke-linejoin="round"/>
</svg>
</body></html>
